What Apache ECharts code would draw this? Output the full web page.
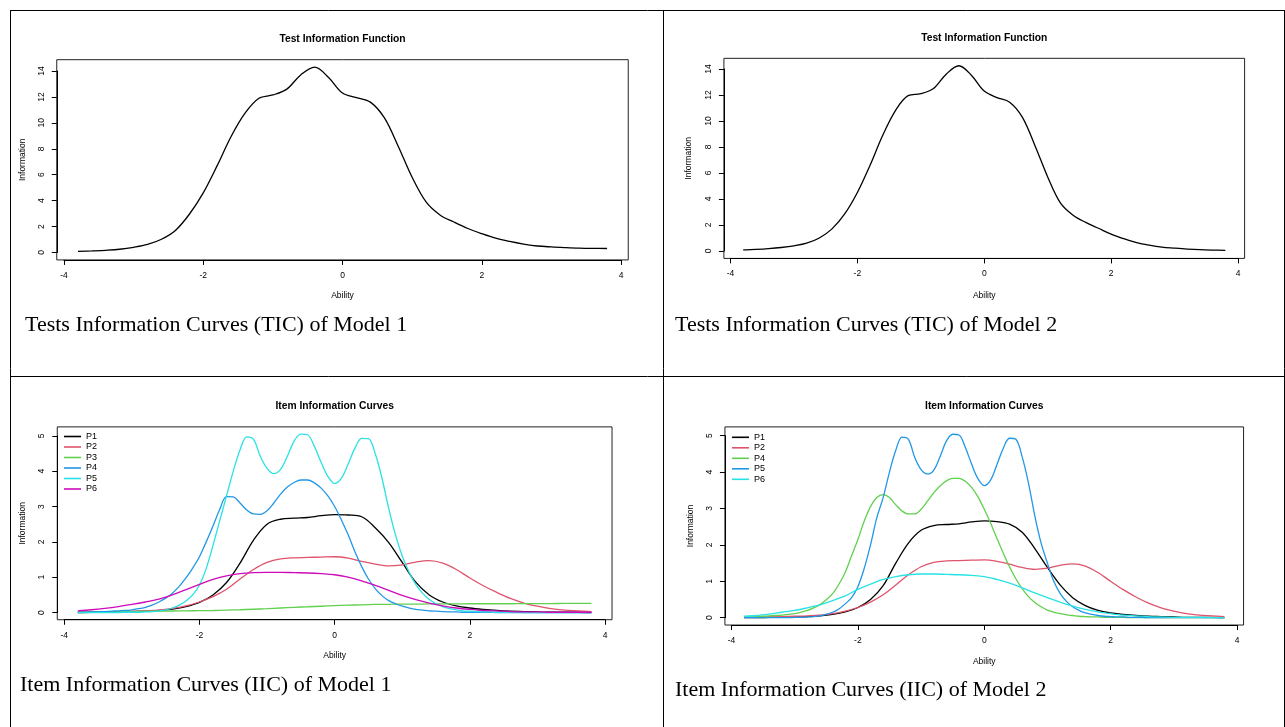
<!DOCTYPE html>
<html>
<head>
<meta charset="utf-8">
<script src="https://cdn.jsdelivr.net/npm/echarts@6/dist/echarts.min.js"></script>
<style>
html,body{margin:0;padding:0;background:#fff;}
#c{width:1285px;height:727px;}
</style>
</head>
<body>
<div id="c"></div>
<script>
// ---------------- data ----------------
// ability grid, step 0.2
const ABILITY = [-3.8,-3.6,-3.4,-3.2,-3.0,-2.8,-2.6,-2.4,-2.2,-2.0,-1.8,-1.6,-1.4,-1.2,-1.0,-0.8,-0.6,-0.4,-0.2,0,
                 0.2,0.4,0.6,0.8,1.0,1.2,1.4,1.6,1.8,2.0,2.2,2.4,2.6,2.8,3.0,3.2,3.4,3.6,3.8];
// ability grid, step 0.1 (for the narrow-peaked items)
const ABILITY_FINE = [-3.8,-3.7,-3.6,-3.5,-3.4,-3.3,-3.2,-3.1,-3.0,-2.9,
                      -2.8,-2.7,-2.6,-2.5,-2.4,-2.3,-2.2,-2.1,-2.0,-1.9,
                      -1.8,-1.7,-1.6,-1.5,-1.4,-1.3,-1.2,-1.1,-1.0,-0.9,
                      -0.8,-0.7,-0.6,-0.5,-0.4,-0.3,-0.2,-0.1,0.0,0.1,
                      0.2,0.3,0.4,0.5,0.6,0.7,0.8,0.9,1.0,1.1,
                      1.2,1.3,1.4,1.5,1.6,1.7,1.8,1.9,2.0,2.1,
                      2.2,2.3,2.4,2.5,2.6,2.7,2.8,2.9,3.0,3.1,
                      3.2,3.3,3.4,3.5,3.6,3.7,3.8];
const X_TICKS = [-4,-2,0,2,4];
const TIC_Y_TICKS = [0,2,4,6,8,10,12,14];
const IIC_Y_TICKS = [0,1,2,3,4,5];

const TIC_M1 = [0.08,0.12,0.17,0.25,0.4,0.62,1.02,1.7,2.95,4.6, 6.7,8.95,10.75,11.9,12.15,12.6,13.7,14.3,13.5,12.3,
                11.95,11.6,10.4,8.2,5.8,3.9,2.9,2.35,1.85,1.45, 1.1,0.85,0.65,0.5,0.43,0.38,0.34,0.32,0.31];
const TIC_M2 = [0.08,0.12,0.18,0.27,0.4,0.6,1.0,1.7,2.85,4.5, 6.6,8.9,10.8,11.95,12.1,12.5,13.6,14.25,13.5,12.3,
                11.8,11.45,10.3,8.1,5.7,3.7,2.75,2.2,1.75,1.3, 0.95,0.65,0.45,0.3,0.22,0.15,0.1,0.07,0.05];

const M1_P1 = [0.0,0.01,0.01,0.02,0.03,0.04,0.06,0.1,0.17,0.29, 0.5,0.85,1.4,2.05,2.5,2.64,2.67,2.69,2.74,2.77,
               2.76,2.71,2.4,1.98,1.42,0.86,0.5,0.3,0.19,0.13, 0.09,0.06,0.04,0.03,0.02,0.01,0.01,0.01,0.0];
const M1_P2 = [0.01,0.01,0.02,0.03,0.04,0.05,0.07,0.12,0.19,0.3, 0.45,0.66,0.95,1.22,1.42,1.52,1.55,1.56,1.57,1.58,
               1.54,1.45,1.37,1.32,1.35,1.43,1.47,1.4,1.22,0.98, 0.76,0.57,0.4,0.27,0.18,0.11,0.07,0.05,0.03];
const M1_P3 = [0.01,0.015,0.02,0.025,0.03,0.035,0.04,0.045,0.05,0.055, 0.06,0.07,0.08,0.095,0.11,0.13,0.15,0.165,0.18,0.195,
               0.21,0.22,0.23,0.235,0.24,0.24,0.245,0.245,0.245,0.25, 0.25,0.25,0.25,0.255,0.255,0.255,0.26,0.26,0.26];
const M1_P4 = [0.01,0.01,0.02,0.02,0.03,0.04,0.05,0.06,0.08,0.11,
               0.15,0.21,0.3,0.41,0.55,0.74,0.98,1.26,1.58,2.0,
               2.45,2.92,3.28,3.27,3.1,2.9,2.79,2.78,2.88,3.1,
               3.35,3.55,3.68,3.75,3.75,3.67,3.52,3.3,3.0,2.62,
               2.2,1.72,1.3,0.95,0.68,0.48,0.34,0.25,0.18,0.13,
               0.09,0.07,0.05,0.04,0.03,0.02,0.02,0.01,0.01,0.01,
               0.01,0.01,0,0,0,0,0,0,0,0,
               0,0,0,0,0,0,0];
const M1_P5 = [0,0,0,0,0,0,0,0.01,0.01,0.01,
               0.02,0.03,0.05,0.08,0.13,0.21,0.33,0.5,0.78,1.25,
               1.9,2.6,3.3,4.0,4.6,4.97,4.9,4.42,4.08,3.93,
               4.05,4.42,4.85,5.05,5.03,4.7,4.25,3.85,3.65,3.8,
               4.2,4.65,4.93,4.92,4.5,3.8,2.95,2.2,1.6,1.15,
               0.8,0.55,0.37,0.25,0.17,0.11,0.08,0.05,0.04,0.03,
               0.02,0.02,0.01,0.01,0.01,0.01,0,0,0,0,
               0,0,0,0,0,0,0];
const M1_P6 = [0.05,0.08,0.12,0.17,0.23,0.3,0.38,0.5,0.65,0.8, 0.94,1.04,1.1,1.13,1.14,1.14,1.13,1.12,1.1,1.07,
               1.0,0.9,0.77,0.63,0.49,0.37,0.27,0.19,0.13,0.09, 0.06,0.05,0.03,0.02,0.02,0.01,0.01,0.01,0.01];

const M2_P1 = [0,0,0.01,0.01,0.02,0.03,0.05,0.09,0.16,0.28, 0.5,0.88,1.5,2.05,2.4,2.53,2.56,2.58,2.63,2.66,
               2.64,2.57,2.35,1.9,1.38,0.9,0.55,0.33,0.2,0.13, 0.09,0.06,0.04,0.03,0.02,0.01,0.01,0.01,0];
const M2_P2 = [0.01,0.01,0.02,0.03,0.04,0.05,0.07,0.11,0.18,0.28, 0.43,0.63,0.9,1.18,1.4,1.52,1.56,1.57,1.58,1.59,
               1.55,1.47,1.38,1.33,1.36,1.44,1.48,1.42,1.24,1.0, 0.77,0.57,0.4,0.27,0.18,0.11,0.07,0.05,0.03];
const M2_P4 = [0.02,0.02,0.03,0.04,0.05,0.06,0.07,0.09,0.11,0.15,
               0.2,0.27,0.36,0.49,0.66,0.92,1.25,1.7,2.15,2.65,
               3.05,3.3,3.38,3.3,3.1,2.93,2.85,2.85,2.98,3.2,
               3.43,3.62,3.76,3.83,3.83,3.75,3.58,3.32,2.98,2.6,
               2.18,1.78,1.4,1.07,0.8,0.58,0.42,0.3,0.21,0.15,
               0.11,0.08,0.06,0.04,0.03,0.02,0.02,0.01,0.01,0.01,
               0.01,0,0,0,0,0,0,0,0,0,
               0,0,0,0,0,0,0];
const M2_P5 = [0,0,0,0,0,0,0,0,0.01,0.01,
               0.02,0.03,0.05,0.09,0.15,0.24,0.38,0.55,0.85,1.35,
               2.0,2.75,3.3,4.0,4.6,4.96,4.9,4.4,4.07,3.95,
               4.05,4.42,4.85,5.04,5.02,4.68,4.22,3.82,3.63,3.78,
               4.2,4.65,4.93,4.9,4.42,3.7,2.8,2.05,1.5,1.0,
               0.67,0.45,0.3,0.2,0.13,0.09,0.06,0.04,0.03,0.02,
               0.02,0.01,0.01,0.01,0,0,0,0,0,0,
               0,0,0,0,0,0,0];
const M2_P6 = [0.04,0.06,0.1,0.15,0.2,0.27,0.35,0.47,0.6,0.78, 0.92,1.05,1.13,1.18,1.2,1.2,1.19,1.18,1.16,1.13,
               1.05,0.95,0.82,0.68,0.55,0.43,0.32,0.23,0.16,0.11, 0.07,0.05,0.03,0.02,0.01,0.01,0.01,0,0];

// R default palette
const C_BLACK = '#000000', C_RED = '#DF536B', C_GREEN = '#61D04F', C_BLUE = '#2297E6', C_CYAN = '#28E2E5', C_MAG = '#CD0BBC';

const SANS = '"Liberation Sans", Arial, Helvetica, sans-serif';
const SERIF = '"Liberation Serif", "Times New Roman", serif';

// ---------------- panels ----------------
const PANELS = [
  { title: 'Test Information Function', caption: 'Tests Information Curves (TIC) of Model 1', yTicks: TIC_Y_TICKS,
    series: [{ name: 'M1 TIC', x: ABILITY, values: TIC_M1, color: C_BLACK }],
    layout: { xPx: [64, 621], yPx: [252.5, 71], titleY: 39, abilityY: 296, infoX: 22, capX: 25, capY: 325 } },
  { title: 'Test Information Function', caption: 'Tests Information Curves (TIC) of Model 2', yTicks: TIC_Y_TICKS,
    series: [{ name: 'M2 TIC', x: ABILITY, values: TIC_M2, color: C_BLACK }],
    layout: { xPx: [730.5, 1238], yPx: [251, 69], titleY: 38, abilityY: 296, infoX: 688, capX: 675, capY: 325 } },
  { title: 'Item Information Curves', caption: 'Item Information Curves (IIC) of Model 1', yTicks: IIC_Y_TICKS, legend: true,
    series: [
      { name: 'M1 P1', x: ABILITY, values: M1_P1, color: C_BLACK },
      { name: 'M1 P2', x: ABILITY, values: M1_P2, color: C_RED },
      { name: 'M1 P3', x: ABILITY, values: M1_P3, color: C_GREEN },
      { name: 'M1 P4', x: ABILITY_FINE, values: M1_P4, color: C_BLUE },
      { name: 'M1 P5', x: ABILITY_FINE, values: M1_P5, color: C_CYAN },
      { name: 'M1 P6', x: ABILITY, values: M1_P6, color: C_MAG }],
    layout: { xPx: [64.3, 605], yPx: [612.6, 435.8], titleY: 406, abilityY: 656, infoX: 22, capX: 20, capY: 685,
              legendLeft: 64, legendTop: 436.5 } },
  { title: 'Item Information Curves', caption: 'Item Information Curves (IIC) of Model 2', yTicks: IIC_Y_TICKS, legend: true,
    series: [
      { name: 'M2 P1', x: ABILITY, values: M2_P1, color: C_BLACK },
      { name: 'M2 P2', x: ABILITY, values: M2_P2, color: C_RED },
      { name: 'M2 P4', x: ABILITY_FINE, values: M2_P4, color: C_GREEN },
      { name: 'M2 P5', x: ABILITY_FINE, values: M2_P5, color: C_BLUE },
      { name: 'M2 P6', x: ABILITY, values: M2_P6, color: C_CYAN }],
    layout: { xPx: [731.5, 1237], yPx: [617.7, 435.7], titleY: 406, abilityY: 662, infoX: 690, capX: 675, capY: 690,
              legendLeft: 732, legendTop: 437.3 } }
];

const grids = [], xAxes = [], yAxes = [], series = [], legends = [], graphics = [];
const axisText = { fontSize: 8.5, fontFamily: SANS, color: '#000' };

PANELS.forEach((p, i) => {
  const L = p.layout;
  const all = [].concat(...p.series.map(s => s.values));
  const ymax = Math.max(...all);
  const dmin = Math.min(...ABILITY), dmax = Math.max(...ABILITY);
  const xr = dmax - dmin;
  const xlo = dmin - 0.04 * xr, xhi = dmax + 0.04 * xr;
  const ylo = -0.04 * ymax, yhi = 1.04 * ymax;
  const t0 = X_TICKS[0], t1 = X_TICKS[X_TICKS.length - 1];
  const kx = (L.xPx[1] - L.xPx[0]) / (t1 - t0);
  const y0 = p.yTicks[0], y1 = p.yTicks[p.yTicks.length - 1];
  const ky = (L.yPx[0] - L.yPx[1]) / (y1 - y0);
  const boxL = L.xPx[0] + (xlo - t0) * kx, boxR = L.xPx[0] + (xhi - t0) * kx;
  const boxB = L.yPx[0] + (y0 - ylo) * ky, boxT = L.yPx[0] - (yhi - y0) * ky;
  const g = i * 3;

  grids.push({ left: boxL, top: boxT, width: boxR - boxL, height: boxB - boxT, show: true,
               borderColor: '#222', borderWidth: 1, backgroundColor: 'transparent', outerBoundsMode: 'none' });
  grids.push({ left: L.xPx[0], top: boxT, width: L.xPx[1] - L.xPx[0], height: boxB - boxT, outerBoundsMode: 'none' });
  grids.push({ left: boxL, top: L.yPx[1], width: boxR - boxL, height: L.yPx[0] - L.yPx[1], outerBoundsMode: 'none' });

  xAxes.push({ type: 'value', gridIndex: g, min: xlo, max: xhi,
               axisLine: { show: false }, axisTick: { show: false }, axisLabel: { show: false }, splitLine: { show: false },
               name: 'Ability', nameLocation: 'middle', nameGap: L.abilityY - boxB - 5, nameTextStyle: axisText });
  yAxes.push({ type: 'value', gridIndex: g, min: ylo, max: yhi,
               axisLine: { show: false }, axisTick: { show: false }, axisLabel: { show: false }, splitLine: { show: false },
               name: 'Information', nameLocation: 'middle', nameGap: boxL - L.infoX - 5, nameTextStyle: axisText });

  xAxes.push({ type: 'value', gridIndex: g + 1, min: t0, max: t1, interval: X_TICKS[1] - X_TICKS[0],
               axisLine: { show: true, onZero: false, lineStyle: { color: '#000', width: 1 } },
               axisTick: { show: true, length: 5, lineStyle: { color: '#000', width: 1 } },
               axisLabel: Object.assign({ margin: 11 }, axisText), splitLine: { show: false } });
  yAxes.push({ type: 'value', gridIndex: g + 1, show: false, min: 0, max: 1, splitLine: { show: false } });

  xAxes.push({ type: 'value', gridIndex: g + 2, show: false, min: 0, max: 1, splitLine: { show: false } });
  yAxes.push({ type: 'value', gridIndex: g + 2, min: y0, max: y1, interval: p.yTicks[1] - p.yTicks[0],
               axisLine: { show: true, onZero: false, lineStyle: { color: '#000', width: 1 } },
               axisTick: { show: true, length: 5, lineStyle: { color: '#000', width: 1 } },
               axisLabel: Object.assign({ margin: 11, rotate: 90 }, axisText), splitLine: { show: false } });

  p.series.forEach(s => {
    series.push({ name: s.name, type: 'line', xAxisIndex: g, yAxisIndex: g,
                  data: s.x.map((x, k) => [x, s.values[k]]),
                  symbol: 'none', showSymbol: false, smooth: 0.35, clip: false, silent: true,
                  lineStyle: { color: s.color, width: 1.3 }, itemStyle: { color: s.color } });
  });

  if (p.legend) {
    legends.push({ data: p.series.map(s => s.name), orient: 'vertical', left: L.legendLeft, top: L.legendTop - 5,
                   padding: 0, itemGap: 0.5, itemWidth: 17, itemHeight: 1.6, icon: 'rect', selectedMode: false,
                   formatter: n => n.split(' ').pop(),
                   textStyle: { fontSize: 9, fontFamily: SANS, color: '#000', lineHeight: 10, height: 10 } });
  }

  graphics.push({ type: 'text', x: (boxL + boxR) / 2, y: L.titleY, silent: true,
                  style: { text: p.title, fontSize: 10.3, fontWeight: 'bold', fontFamily: SANS, fill: '#000',
                           align: 'center', verticalAlign: 'middle' } });
  graphics.push({ type: 'text', x: L.capX, y: L.capY, silent: true,
                  style: { text: p.caption, fontSize: 22, fontFamily: SERIF, fill: '#000',
                           align: 'left', verticalAlign: 'middle' } });
});

// table frame lines
const TABLE_LINES = [[10.5, 10, 10.5, 727], [663.5, 10, 663.5, 727], [1284.5, 10, 1284.5, 727],
                     [10, 10.5, 1285, 10.5], [10, 376.5, 1285, 376.5]];
TABLE_LINES.forEach(l => graphics.push({ type: 'line', silent: true,
  shape: { x1: l[0], y1: l[1], x2: l[2], y2: l[3] }, style: { stroke: '#000', lineWidth: 1 } }));

const chart = echarts.init(document.getElementById('c'), null, { renderer: 'canvas' });
chart.setOption({
  animation: false,
  backgroundColor: '#fff',
  grid: grids, xAxis: xAxes, yAxis: yAxes, series: series, legend: legends,
  graphic: graphics
});
</script>
</body>
</html>
